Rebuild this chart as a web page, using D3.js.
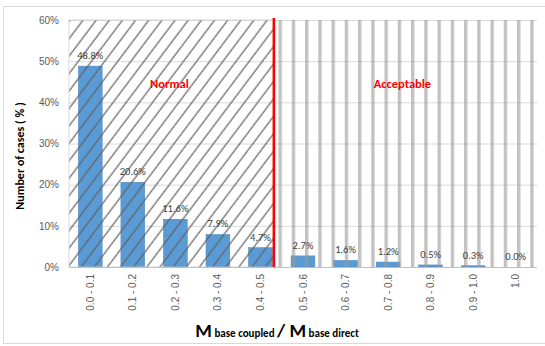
<!DOCTYPE html>
<html><head><meta charset="utf-8">
<script src="https://cdn.jsdelivr.net/npm/d3@7"></script>
<style>body{margin:0;background:#fff}svg{display:block;font-family:Calibri,Carlito,"Liberation Sans","Open Sans",sans-serif}</style>
</head><body>
<script>
const categories = ["0.0 - 0.1","0.1 - 0.2","0.2 - 0.3","0.3 - 0.4","0.4 - 0.5","0.5 - 0.6","0.6 - 0.7","0.7 - 0.8","0.8 - 0.9","0.9 - 1.0","1.0"];
const values = [48.8,20.6,11.6,7.9,4.7,2.7,1.6,1.2,0.5,0.3,0.0];
const yTicks = [0,10,20,30,40,50,60];
const zoneLabels = ["Normal","Acceptable"];
const splitIndex = 4;

const W=545,H=346;
const pL=69,pR=537,pT=20,pB=267;
const svg=d3.select("body").append("svg").attr("width",W).attr("height",H);
const defs=svg.append("defs");
const hatch=defs.append("pattern").attr("id","hatch").attr("patternUnits","userSpaceOnUse")
  .attr("width",10.5).attr("height",11).attr("patternTransform","rotate(37)");
hatch.append("line").attr("x1",5).attr("x2",5).attr("y1",0).attr("y2",11).attr("stroke","#606060").attr("stroke-width",1.4).attr("stroke-opacity",0.85);
const stripes=defs.append("pattern").attr("id","stripes").attr("patternUnits","userSpaceOnUse")
  .attr("width",13.25).attr("height",10).attr("x",280-1.5);
stripes.append("rect").attr("x",0).attr("y",0).attr("width",3.4).attr("height",10).attr("fill","#9a9a9a").attr("fill-opacity",0.6);

// outer border
svg.append("rect").attr("x",3.5).attr("y",6.5).attr("width",W).attr("height",H-9).attr("fill","none").attr("stroke","#d9d9d9");

const x=d3.scaleBand().domain(categories).range([pL,pR]).paddingInner(0.44).paddingOuter(0.22);
const y=d3.scaleLinear().domain([0,60]).range([pB,pT]);
const splitX = x(categories[splitIndex])+x.bandwidth()+1.5;

// gridlines
svg.append("g").selectAll("line").data(yTicks).join("line")
  .attr("x1",pL).attr("x2",pR).attr("y1",d=>y(d)+0.5).attr("y2",d=>y(d)+0.5)
  .attr("stroke","#d9d9d9").attr("stroke-width",1);

// bars
svg.append("g").selectAll("rect").data(values).join("rect")
  .attr("x",(d,i)=>x(categories[i])).attr("y",d=>y(d)).attr("width",x.bandwidth())
  .attr("height",d=>y(0)-y(d)).attr("fill","#5b9bd5").attr("stroke","#4a86c0").attr("stroke-width",0.5);

// pattern overlays
svg.append("rect").attr("x",pL).attr("y",pT).attr("width",splitX-pL).attr("height",pB-pT).attr("fill","url(#hatch)");
svg.append("rect").attr("x",pL).attr("y",pT).attr("width",splitX-pL).attr("height",pB-pT).attr("fill","none").attr("stroke","#d0d0d0").attr("stroke-width",0.8);
svg.append("rect").attr("x",splitX+2).attr("y",pT).attr("width",pR-splitX-2).attr("height",pB-pT).attr("fill","url(#stripes)");

// axis line
svg.append("line").attr("x1",pL).attr("x2",pR).attr("y1",pB+0.5).attr("y2",pB+0.5).attr("stroke","#bfbfbf");

// red split line
svg.append("line").attr("x1",splitX).attr("x2",splitX).attr("y1",pT-2).attr("y2",pB).attr("stroke","#ff0000").attr("stroke-width",2.6);

// y axis
const ya=svg.append("g").attr("transform",`translate(${pL},0)`).call(d3.axisLeft(y).tickValues(yTicks).tickFormat(d=>d+"%").tickSize(0).tickPadding(10));
ya.select(".domain").remove();
ya.selectAll("text").attr("fill","#595959").style("font-size","10px");

// x axis
const xa=svg.append("g").attr("transform",`translate(0,${pB})`).call(d3.axisBottom(x).tickSize(0).tickPadding(8));
xa.select(".domain").remove();
xa.selectAll("text").attr("fill","#595959").style("font-size","10px")
  .attr("transform","rotate(-90)").attr("text-anchor","end").attr("dy","0.35em").attr("x",-7).attr("y",0);

// data labels
svg.append("g").selectAll("text").data(values).join("text")
  .attr("x",(d,i)=>x(categories[i])+x.bandwidth()/2).attr("y",d=>y(d)-7)
  .attr("text-anchor","middle").attr("fill","#404040").style("font-size","10.5px").text(d=>d.toFixed(1)+"%");

// zone labels
svg.append("text").attr("x",(pL+splitX)/2-2).attr("y",88).attr("text-anchor","middle").attr("fill","#ff0000")
  .style("font-size","12.5px").style("font-weight","bold").text(zoneLabels[0]);
svg.append("text").attr("x",(splitX+pR)/2-3).attr("y",88).attr("text-anchor","middle").attr("fill","#ff0000")
  .style("font-size","12.5px").style("font-weight","bold").text(zoneLabels[1]);

// y title
svg.append("text").attr("transform","translate(24,156) rotate(-90)").attr("text-anchor","middle")
  .attr("fill","#000").style("font-size","12px").style("font-weight","bold").text("Number of cases ( % )");

// x title
const xt=svg.append("text").attr("x",277).attr("y",337).attr("text-anchor","middle").attr("fill","#000").style("font-weight","bold");
xt.append("tspan").style("font-size","19px").text("M");
xt.append("tspan").style("font-size","11px").text(" base coupled ");
xt.append("tspan").style("font-size","19px").text("/ ");
xt.append("tspan").style("font-size","19px").text("M");
xt.append("tspan").style("font-size","11px").text(" base direct");
</script>
</body></html>
